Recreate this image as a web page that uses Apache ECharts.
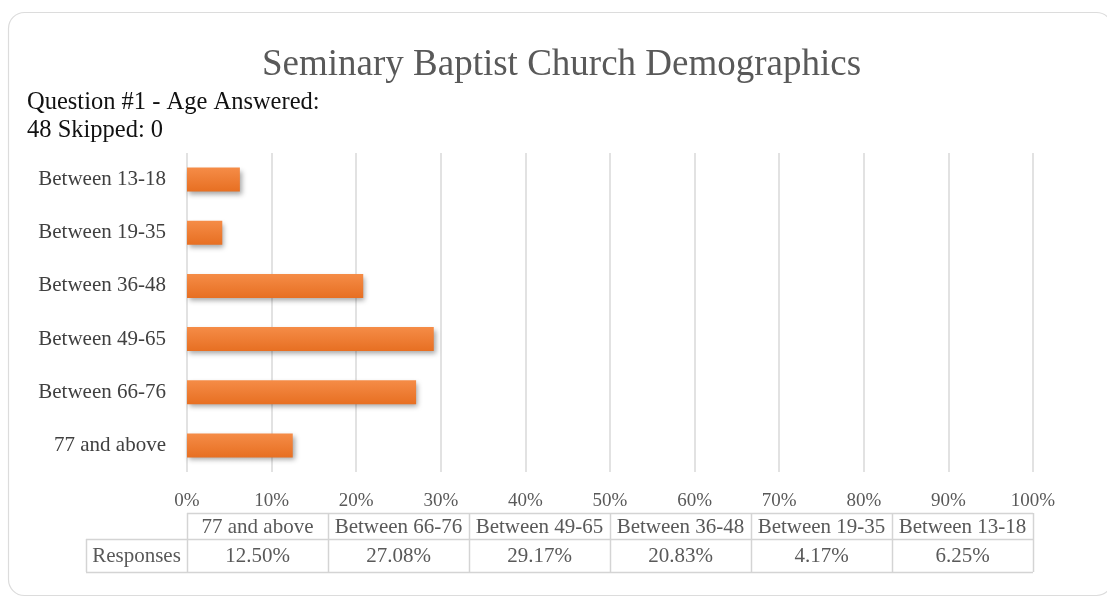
<!DOCTYPE html>
<html>
<head>
<meta charset="utf-8">
<style>
  html, body { margin: 0; padding: 0; background: #ffffff; }
  #chart { width: 1107px; height: 597px; }
</style>
<script src="https://cdn.jsdelivr.net/npm/echarts@6/dist/echarts.min.js"></script>
</head>
<body>
<div id="chart"></div>
<script>
// ---- data ----
const titleText = 'Seminary Baptist Church Demographics';
const subtitleText = 'Question #1 - Age Answered:\n48 Skipped: 0';
const categories = ['77 and above', 'Between 66-76', 'Between 49-65', 'Between 36-48', 'Between 19-35', 'Between 13-18'];
const responses = [12.50, 27.08, 29.17, 20.83, 4.17, 6.25];
const seriesName = 'Responses';
const xTickMin = 0, xTickMax = 100, xTickStep = 10;

// ---- layout ----
const FONT = '"Liberation Serif", "Times New Roman", serif';
const W = 1107, H = 597;
const gridLeft = 187, gridRight = 74, gridTop = 153, gridHeight = 319;
const gridWidth = W - gridLeft - gridRight;
const tableTop = 513, headRowH = 26, valRowH = 33, rowLabelLeft = 86;
const tableColor = '#d4d4d4', textGrey = '#595959';

const chart = echarts.init(document.getElementById('chart'), null, { renderer: 'canvas' });

// table graphics built from the data arrays
const graphics = [];
graphics.push({
  type: 'rect', silent: true, z: 0,
  shape: { x: 8.5, y: 12.5, width: 1104, height: 583, r: 16 },
  style: { fill: 'none', stroke: '#dcdcdc', lineWidth: 1.2 }
});
const colW = gridWidth / categories.length;
const tableRight = gridLeft + gridWidth;
const midY = tableTop + headRowH, botY = midY + valRowH;
function hline(x1, x2, y) {
  graphics.push({ type: 'line', silent: true, shape: { x1: x1, y1: y + 0.5, x2: x2, y2: y + 0.5 }, style: { stroke: tableColor, lineWidth: 1.5 } });
}
function vline(x, y1, y2) {
  graphics.push({ type: 'line', silent: true, shape: { x1: x + 0.5, y1: y1, x2: x + 0.5, y2: y2 }, style: { stroke: tableColor, lineWidth: 1.5 } });
}
hline(gridLeft, tableRight, tableTop);
hline(rowLabelLeft, tableRight, midY);
hline(rowLabelLeft, tableRight, botY);
vline(rowLabelLeft, midY, botY);
for (let i = 0; i <= categories.length; i++) {
  vline(gridLeft + i * colW, tableTop, botY);
}
graphics.push({
  type: 'text', silent: true,
  style: { text: seriesName, x: (rowLabelLeft + gridLeft) / 2, y: midY + valRowH / 2 + 1, align: 'center', verticalAlign: 'middle',
           font: '21px ' + FONT, fill: textGrey }
});
categories.forEach(function (c, i) {
  const cx = gridLeft + (i + 0.5) * colW;
  graphics.push({
    type: 'text', silent: true,
    style: { text: c, x: cx, y: tableTop + headRowH / 2 + 1, align: 'center', verticalAlign: 'middle', font: '21px ' + FONT, fill: textGrey }
  });
  graphics.push({
    type: 'text', silent: true,
    style: { text: responses[i].toFixed(2) + '%', x: cx, y: midY + valRowH / 2 + 1, align: 'center', verticalAlign: 'middle', font: '21px ' + FONT, fill: textGrey }
  });
});

const option = {
  backgroundColor: '#ffffff',
  animation: false,
  title: [
    { text: titleText, left: 257, top: 42,
      textStyle: { fontFamily: FONT, fontSize: 37, fontWeight: 'normal', color: '#595959' } },
    { text: subtitleText, left: 22, top: 84,
      textStyle: { fontFamily: FONT, fontSize: 24.5, fontWeight: 'normal', color: '#111111', lineHeight: 28 } }
  ],
  grid: { left: gridLeft, top: gridTop, width: gridWidth, height: gridHeight, containLabel: false },
  xAxis: {
    type: 'value', min: xTickMin, max: xTickMax, interval: xTickStep,
    axisLine: { show: false }, axisTick: { show: false },
    splitLine: { show: true, lineStyle: { color: '#d9d9d9', width: 1.5 } },
    axisLabel: { formatter: '{value}%', fontFamily: FONT, fontSize: 19, color: textGrey, margin: 20 }
  },
  yAxis: {
    type: 'category', data: categories,
    axisLine: { show: false }, axisTick: { show: false },
    axisLabel: { fontFamily: FONT, fontSize: 21, color: '#404040', margin: 21 }
  },
  series: [{
    name: seriesName, type: 'bar', data: responses, barWidth: 24,
    itemStyle: {
      color: new echarts.graphic.LinearGradient(0, 0, 0, 1, [
        { offset: 0, color: '#F58C47' },
        { offset: 1, color: '#E76F22' }
      ]),
      shadowColor: 'rgba(0,0,0,0.35)', shadowBlur: 5, shadowOffsetX: 2, shadowOffsetY: 3
    }
  }],
  graphic: graphics
};
chart.setOption(option);
</script>
</body>
</html>
